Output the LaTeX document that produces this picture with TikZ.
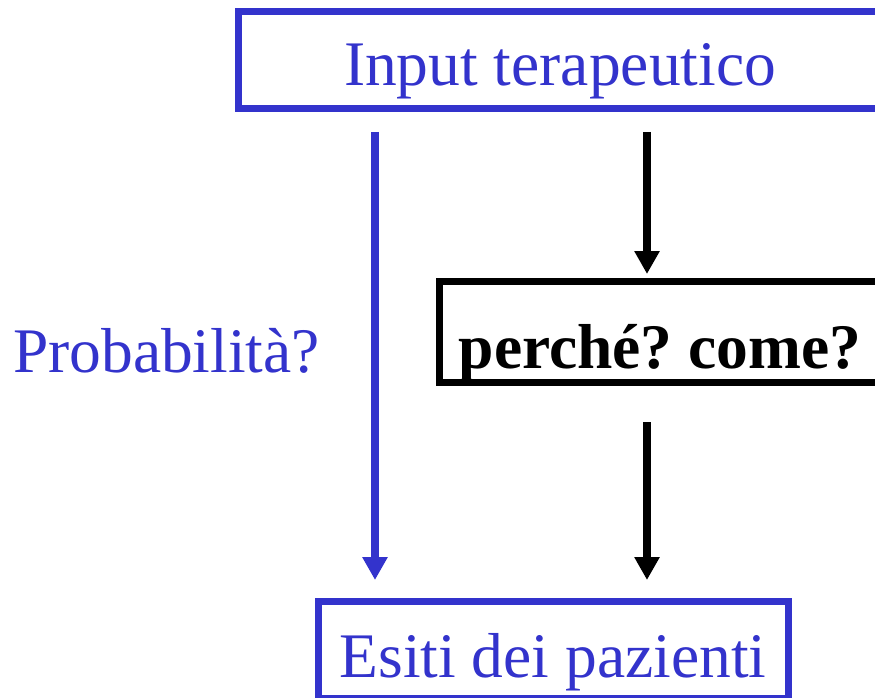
\documentclass[tikz,border=0pt]{standalone}
\usepackage{fontspec}
\setmainfont{Liberation Serif}
\usepackage{tikz}
\usetikzlibrary{arrows.meta,positioning}

\definecolor{slideblue}{HTML}{3333CC}
\frenchspacing

\tikzset{
	box/.style =
	{
		draw,
		line width		= 7pt,
		inner sep		= 0pt,
		minimum height	= 97pt,
		font			= \fontsize{63.5}{70}\selectfont
	},
	bluebox/.style		= {box, draw = slideblue, text = slideblue},
	blackbox/.style		= {box, draw = black, font = \fontsize{63.5}{70}\selectfont\bfseries},
	flow/.style =
	{
		line width		= 7.5pt,
		-{Triangle[width = 24pt, length = 23pt]}
	}
}

\begin{document}
\begin{tikzpicture}[x = 1pt, y = -1pt]
		%
		\path[use as bounding box] (0,0) rectangle (875,698);
		\clip (0,0) rectangle (875,698);
		%
		\node[bluebox, minimum width = 644pt, text height = 65pt, text depth = 14pt]
			(input) at (560,60.5) {Input terapeutico};
		\node[blackbox, minimum width = 442pt, text height = 87pt, text depth = 14pt]
			(why) at (660,331.5) {perché? come?};
		\node[bluebox, minimum width = 470pt, text height = 69pt, text depth = 14pt]
			(esiti) at (553,649.5) {Esiti dei pazienti};
		\node[anchor = base, text = slideblue, font = \fontsize{63.5}{70}\selectfont]
			(prob) at (166.5,372) {Probabilità?};
		%
		\coordinate (lx) at (375,0);
		\coordinate (rx) at (647,0);
		%
		\draw[flow, slideblue, shorten < = 19.5pt, shorten > = 17.5pt]
			(input.south -| lx) -- (esiti.north -| lx);
		\draw[flow, shorten < = 19.5pt, shorten > = 3.5pt]
			(input.south -| rx) -- (why.north -| rx);
		\draw[flow, shorten < = 36.5pt, shorten > = 17.5pt]
			(why.south -| rx) -- (esiti.north -| rx);
		%
\end{tikzpicture}
\end{document}
